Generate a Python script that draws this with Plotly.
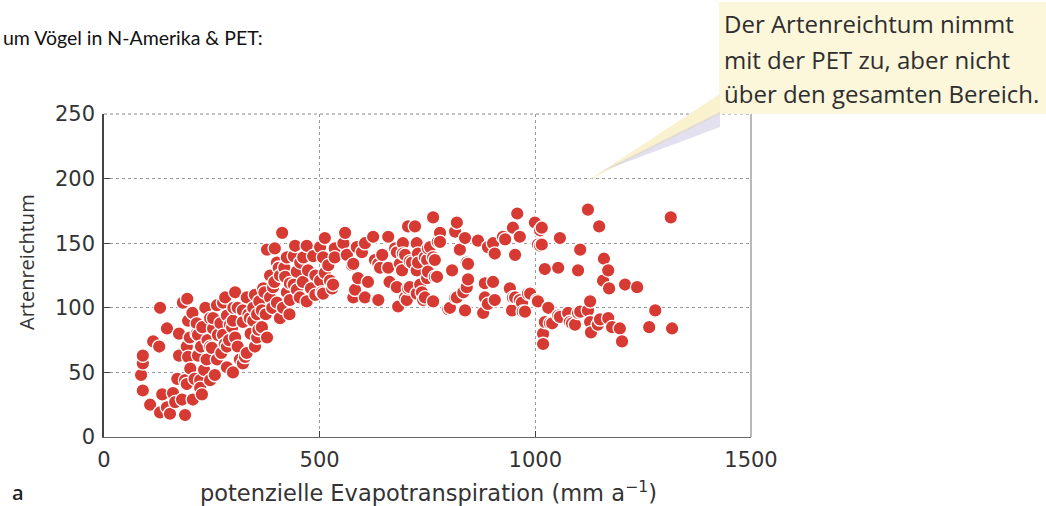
import plotly.graph_objects as go

# Potential evapotranspiration (mm/a) and bird species richness, grouped by PET range
pet_low = [86, 90, 90, 90, 107, 114, 128, 130, 130, 135, 146, 146, 153, 160, 165, 170, 174, 174,
           181, 183, 188, 188, 192, 192, 193, 195, 195, 199, 200, 205, 206, 210, 215, 215, 218, 218,
           223, 223, 225, 227, 228, 232, 235, 238, 240, 246, 246, 246, 250, 253, 253, 257, 262, 262, 264]
rich_low = [48, 57, 63, 36, 25, 74, 70, 100, 19, 33, 84, 23, 18, 34, 27, 45, 80, 63,
            29, 104, 17, 44, 41, 70, 107, 90, 62, 77, 53, 96, 29, 45, 80, 88, 63, 79,
            44, 38, 70, 33, 85, 52, 100, 60, 75, 92, 70, 44, 69, 84, 92, 48, 60, 102, 79]

pet_mid1 = [270, 272, 276, 276, 280, 281, 285, 285, 285, 290, 292, 297, 299, 299, 300, 304, 304, 310,
            310, 315, 322, 322, 322, 327, 331, 331, 335, 338, 340, 346, 346, 350, 350, 355, 355, 358,
            360, 366, 366, 369, 372, 375, 378, 378, 385, 385, 390, 392, 395, 396, 401, 401, 405, 408,
            408, 413, 415, 418, 420, 424, 424, 430, 431, 431, 440, 440, 443, 447, 447, 454, 455, 461,
            462, 470, 470, 473, 480, 485, 490, 490, 501, 501, 505]
rich_mid1 = [88, 65, 104, 79, 72, 108, 94, 70, 54, 75, 87, 85, 90, 50, 100, 112, 77, 100,
             70, 60, 98, 89, 57, 62, 108, 65, 95, 92, 80, 100, 90, 110, 70, 77, 95, 83,
             105, 98, 85, 115, 112, 95, 145, 77, 108, 125, 100, 116, 120, 146, 135, 104, 131, 125,
             92, 158, 100, 131, 124, 139, 112, 95, 119, 106, 140, 118, 148, 128, 114, 108, 135, 120,
             139, 148, 105, 129, 115, 140, 125, 110, 147, 121, 112]

pet_mid2 = [508, 508, 512, 512, 520, 524, 529, 531, 535, 535, 555, 559, 563, 575, 578, 578, 582, 586,
            589, 598, 605, 605, 612, 624, 628, 633, 636, 636, 640, 645, 659, 659, 662, 675, 679, 679,
            682, 686, 691, 693, 693, 698, 698, 702, 705, 705, 709, 709, 714, 721, 725, 725, 725, 728,
            728, 733, 737, 740, 744, 744, 749, 749, 751, 751, 756, 763, 763, 763, 767, 767, 772, 774,
            779, 779, 798, 802, 807, 814, 814, 818, 818, 825, 833, 837, 837, 841, 841, 844, 844, 867,
            879, 883, 883, 890, 890, 902, 902, 906, 906, 925, 930, 941, 946, 948, 948, 953, 953, 958,
            964, 964, 969, 971, 976, 983, 988, 999, 1004, 1006]
rich_mid2 = [139, 111, 154, 127, 133, 121, 115, 118, 146, 139, 150, 158, 141, 133, 134, 108, 114, 147,
             123, 143, 150, 108, 120, 155, 137, 106, 134, 106, 131, 141, 155, 131, 120, 146, 143, 116,
             101, 134, 129, 150, 142, 141, 108, 106, 163, 115, 136, 116, 135, 163, 150, 129, 111, 142,
             135, 118, 112, 106, 139, 108, 137, 123, 146, 128, 147, 170, 139, 105, 137, 124, 124, 151,
             158, 151, 99, 100, 129, 159, 108, 166, 108, 145, 112, 154, 98, 135, 116, 134, 122, 152,
             96, 119, 108, 103, 147, 150, 120, 142, 106, 155, 153, 115, 98, 162, 108, 141, 108, 173,
             155, 106, 104, 97, 97, 111, 111, 166, 106, 149]

pet_high = [1006, 1011, 1011, 1015, 1015, 1018, 1018, 1022, 1022, 1030, 1034, 1039, 1053, 1053, 1057,
            1057, 1076, 1080, 1085, 1092, 1099, 1099, 1104, 1104, 1122, 1122, 1127, 1127, 1129, 1145,
            1148, 1150, 1157, 1159, 1169, 1169, 1171, 1178, 1196, 1201, 1208, 1236, 1264, 1278, 1314, 1317]
rich_high = [105, 160, 148, 162, 149, 80, 72, 130, 89, 100, 88, 88, 131, 94, 154,
             93, 96, 89, 88, 87, 129, 96, 145, 97, 176, 98, 105, 89, 81, 87,
             163, 91, 121, 138, 129, 92, 115, 85, 84, 74, 118, 116, 85, 98, 170, 84]

x_ticks = [0, 500, 1000, 1500]
y_ticks = [0, 50, 100, 150, 200, 250]

pet = pet_low + pet_mid1 + pet_mid2 + pet_high
richness = rich_low + rich_mid1 + rich_mid2 + rich_high

# page geometry (pixels)
W, H = 1046, 506
L, R, T, B = 104, 751, 114, 437
PW, PH = R - L, B - T


def px(x):
    return (x - L) / PW


def py(y):
    return (B - y) / PH


TXT = "#333333"
FONT = "Open Sans"
WIDE = "DejaVu Sans"

fig = go.Figure(
    go.Scatter(
        x=pet, y=richness, mode="markers",
        marker=dict(size=13.5, color="#d63a33", line=dict(color="white", width=1.3)),
        hoverinfo="skip",
    )
)

fig.update_layout(
    width=W, height=H,
    margin=dict(l=L, r=W - R, t=T, b=H - B, pad=0),
    paper_bgcolor="white", plot_bgcolor="white",
    showlegend=False,
    font=dict(family=FONT, color=TXT),
)

fig.update_xaxes(
    range=[0, 1500], tickvals=x_ticks, ticktext=[str(v) for v in x_ticks],
    showgrid=True, gridcolor="#9a9a9a", griddash="dot", gridwidth=1,
    zeroline=False, showline=True, linecolor="#666666", linewidth=1.2,
    ticks="inside", ticklen=6, tickcolor="#444444", tickwidth=1.3,
    tickfont=dict(size=21, family=WIDE, color=TXT), ticklabelstandoff=4,
    fixedrange=True,
)
fig.update_yaxes(
    range=[0, 250], tickvals=y_ticks, ticktext=[str(v) for v in y_ticks],
    showgrid=True, gridcolor="#9a9a9a", griddash="dot", gridwidth=1,
    zeroline=False, showline=True, linecolor="#444444", linewidth=1.5,
    ticks="inside", ticklen=6, tickcolor="#444444", tickwidth=1.3,
    tickfont=dict(size=21, family=WIDE, color=TXT), ticklabelstandoff=3,
    fixedrange=True,
)

shapes = [
    # top and right frame edges
    dict(type="line", xref="paper", yref="paper", x0=0, x1=1, y0=1, y1=1,
         line=dict(color="#8a8a8a", width=1, dash="dot")),
    dict(type="line", xref="paper", yref="paper", x0=1, x1=1, y0=0, y1=1,
         line=dict(color="#8a8a8a", width=1.2)),
    # callout box
    dict(type="rect", xref="paper", yref="paper", layer="above",
         x0=px(719), x1=px(1046), y0=py(114), y1=py(2),
         fillcolor="#fcf6db", line=dict(width=0)),
    # callout pointer
    dict(type="path", xref="paper", yref="paper", layer="above",
         path=f"M {px(587)},{py(181)} L {px(720)},{py(94)} L {px(720)},{py(114)} Z",
         fillcolor="#faf1cf", line=dict(width=0)),
    dict(type="path", xref="paper", yref="paper", layer="above",
         path=f"M {px(600)},{py(172)} L {px(720)},{py(112)} L {px(720)},{py(127)} Z",
         fillcolor="rgba(200,196,226,0.5)", line=dict(width=0)),
]

annotations = [
    dict(text="um Vögel in N-Amerika & PET:", xref="paper", yref="paper",
         x=px(1), y=py(38), xanchor="left", yanchor="middle", showarrow=False,
         font=dict(family="Lato", size=19.5, color="#111111")),
    dict(text="Artenreichtum", xref="paper", yref="paper", textangle=-90,
         x=px(26), y=py(262), xanchor="center", yanchor="middle", showarrow=False,
         font=dict(family=FONT, size=20, color=TXT)),
    dict(text="potenzielle Evapotranspiration (mm a<sup>−1</sup>)", xref="paper", yref="paper",
         x=px(428), y=py(491), xanchor="center", yanchor="middle", showarrow=False,
         font=dict(family=WIDE, size=22.5, color=TXT)),
    dict(text="a", xref="paper", yref="paper",
         x=px(18), y=py(492), xanchor="center", yanchor="middle", showarrow=False,
         font=dict(family=FONT, size=20, color="#222222", weight=600)),
]

callout_lines = ["Der Artenreichtum nimmt", "mit der PET zu, aber nicht", "über den gesamten Bereich."]
for i, line in enumerate(callout_lines):
    annotations.append(dict(
        text=line, xref="paper", yref="paper",
        x=px(722), y=py(24 + 35 * i), xanchor="left", yanchor="middle", showarrow=False,
        font=dict(family=FONT, size=24, color="#2e2e2e"),
    ))

fig.update_layout(shapes=shapes, annotations=annotations)

fig.write_html("out.html", config={"displayModeBar": False})
